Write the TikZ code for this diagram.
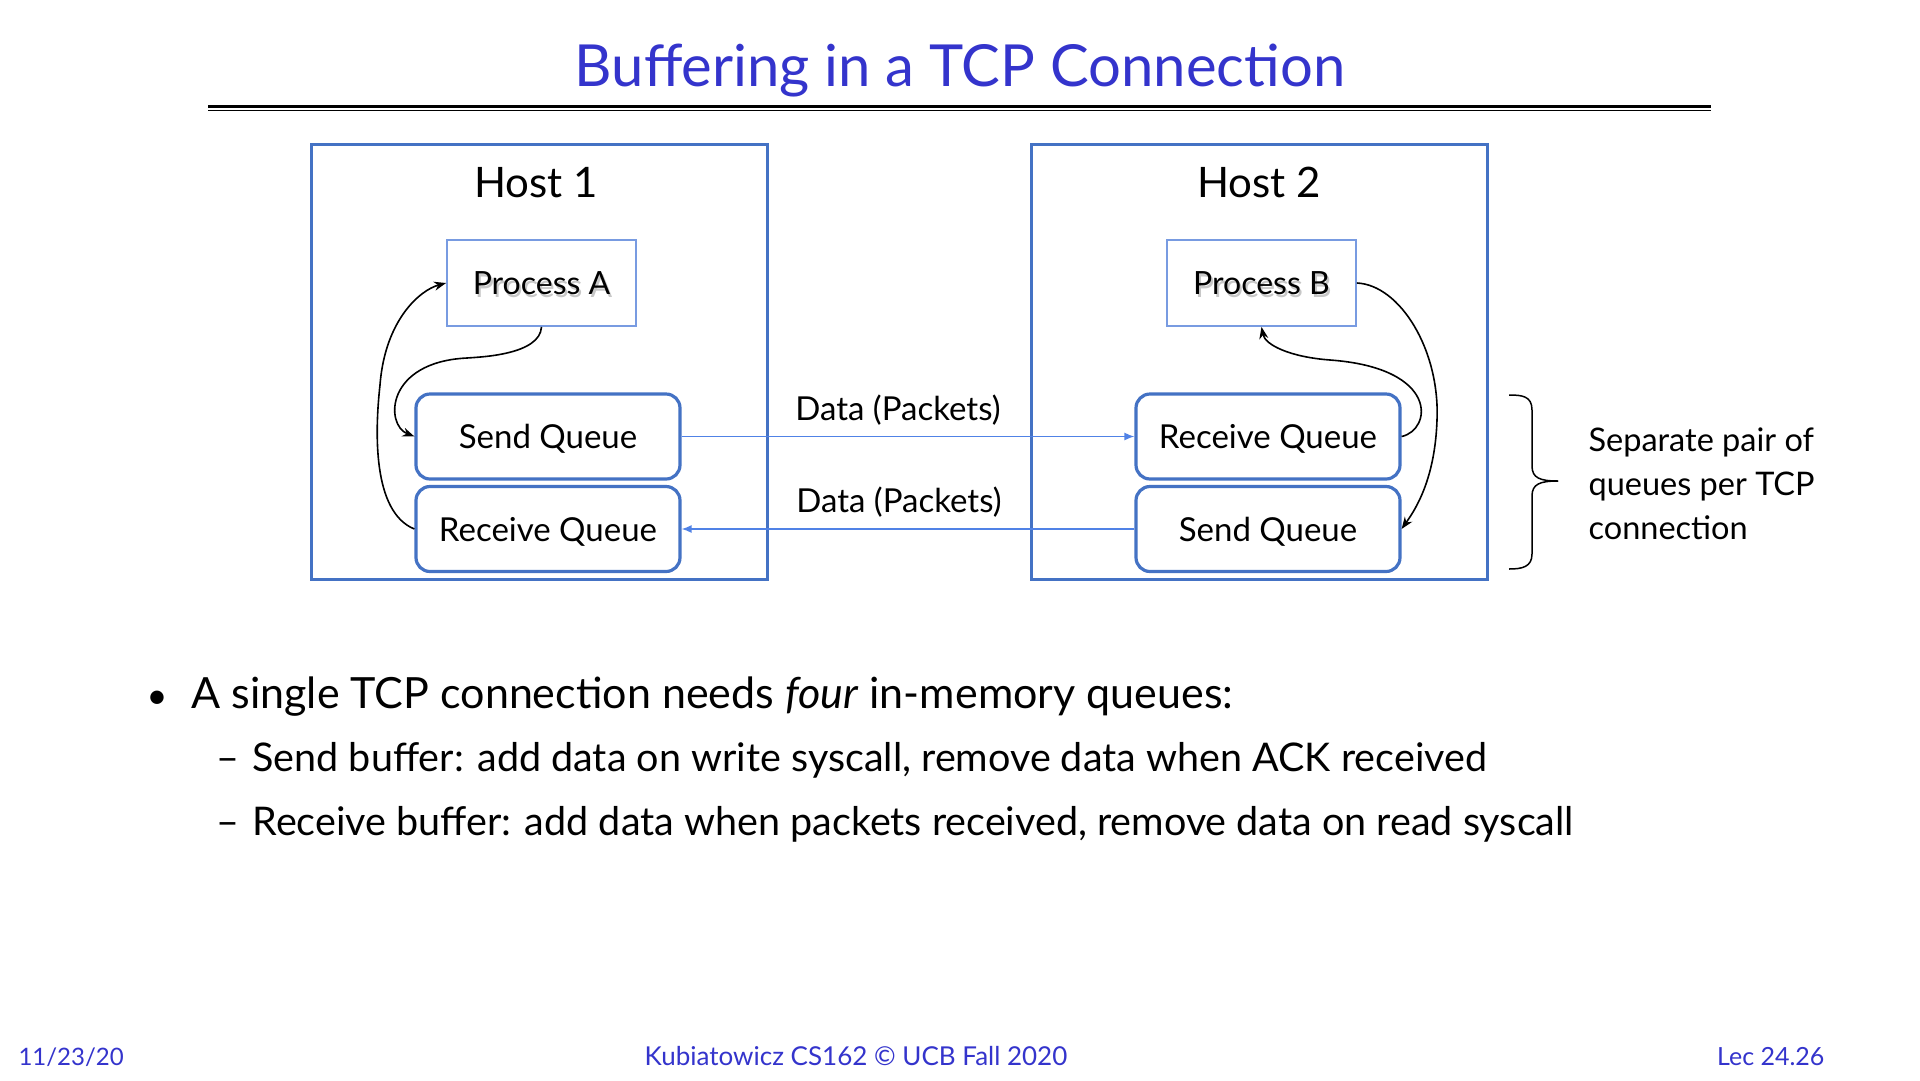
\documentclass[tikz,border=0pt]{standalone}
\usepackage{fontspec}
\setmainfont{Lato}
\usetikzlibrary{arrows.meta,calc}
\definecolor{slideblue}{RGB}{52,52,204}
\definecolor{hostblue}{RGB}{68,114,196}
\definecolor{procblue}{RGB}{120,155,225}
\definecolor{linkblue}{RGB}{80,130,230}
\newcommand{\fs}[1]{\fontsize{#1}{#1}\selectfont}
\begin{document}
\begin{tikzpicture}[x=1pt,y=-1pt,
  hostbox/.style={draw=hostblue,line width=3pt},
  procbox/.style={draw=procblue,line width=1.8pt,minimum width=189pt,minimum height=86pt,inner sep=0pt,font=\fs{32}},
  procshadow/.style={inner sep=0pt,font=\fs{32},text=black,text opacity=0.22},
  queuebox/.style={draw=hostblue,line width=3.2pt,rounded corners=14pt,minimum width=264pt,minimum height=85pt,inner sep=0pt,text height=28pt,text depth=4pt,font=\fs{33}},
  hostlabel/.style={anchor=base,font=\fs{42}},
  datalink/.style={linkblue,line width=1.4pt,-{Latex[length=10pt,width=8pt]}},
  datalabel/.style={anchor=base,font=\fs{33}},
  flow/.style={black,line width=1.6pt,-{Stealth[length=12pt,width=9pt]}},
  plain/.style={anchor=base west}
]
\useasboundingbox[fill=white] (0,0) rectangle (1920,1080);

% title and rule
\node[anchor=base,text=slideblue,font=\fs{58}] (title) at (960,86) {Buffering in a TCP Connection};
\draw[line width=2.6pt] (208,106.5) -- (1711,106.5);
\draw[line width=1.6pt] (208,110.5) -- (1711,110.5);

% hosts
\draw[hostbox] (311,144) rectangle (767,579);
\draw[hostbox] (1031,144) rectangle (1487,579);
\node[hostlabel] (h1) at (536,197) {Host 1};
\node[hostlabel] (h2) at (1259,197) {Host 2};

% processes, with a soft shadow under their names
\node[procshadow] (pas) at (543.5,286) {Process A};
\node[procshadow] (pbs) at (1263.5,286) {Process B};
\node[procbox] (pa) at (541.5,283) {Process A};
\node[procbox] (pb) at (1261.5,283) {Process B};

% queues
\node[queuebox] (sq1) at (548,436.5) {Send Queue};
\node[queuebox] (rq1) at (548,529) {Receive Queue};
\node[queuebox] (rq2) at (1268,436.5) {Receive Queue};
\node[queuebox] (sq2) at (1268,529) {Send Queue};

% network links
\draw[datalink] (sq1.east) -- (rq2.west);
\draw[datalink] (sq2.west) -- (rq1.east);
\node[datalabel] (d1) at (898,420) {Data (Packets)};
\node[datalabel] (d2) at (899,512) {Data (Packets)};

% flows inside host 1
\draw[flow] (pa.south) .. controls (540,355) and (480,357) .. (467,358)
  .. controls (385,362) and (385,425) .. (sq1.west);
\draw[flow] (rq1.west) .. controls (372,512) and (375,430) .. (380,385)
  .. controls (385,320) and (420,290) .. (pa.west);

% flows inside host 2
\draw[flow] (pb.east) .. controls (1400,285) and (1440,350) .. (1437,420)
  .. controls (1435,480) and (1415,510) .. (sq2.east);
\draw[flow] (rq2.east) .. controls (1432,430) and (1440,368) .. (1330,360)
  .. controls (1290,357) and (1265,345) .. (pb.south);

% brace and note
\draw[line width=1.5pt] (1509,395) .. controls (1522,395) and (1532,396) .. (1532,410)
  -- (1532,466) .. controls (1532,478) and (1540,481) .. (1558,481)
  coordinate (cusp);
\draw[line width=1.5pt] (1558,481) .. controls (1540,481) and (1532,484) .. (1532,496)
  -- (1532,554) .. controls (1532,567) and (1522,569) .. (1509,569);
\node[plain,font=\fs{32.5}] (n1) at (1585,451) {Separate pair of};
\node[plain,font=\fs{32.5}] (n2) at (1585,495) {queues per TCP};
\node[plain,font=\fs{32.5}] (n3) at (1585,539) {connection};

% bullets
\node[plain,font=\fs{36}] (b0) at (143,708) {•};
\node[plain,font=\fs{43}] (b1) at (188,708) {A single TCP connection needs \textit{four} in-memory queues:};
\node[plain,font=\fs{39.5}] (s1d) at (213,771) {–};
\node[plain,font=\fs{39.5}] (s1) at (249,771) {Send buffer: add data on write syscall, remove data when ACK received};
\node[plain,font=\fs{39.5}] (s2d) at (213,835) {–};
\node[plain,font=\fs{39.5}] (s2) at (249,835) {Receive buffer: add data when packets received, remove data on read syscall};

% footer
\node[plain,text=slideblue,font=\fs{24}] (f1) at (15,1065) {11/23/20};
\node[anchor=base,text=slideblue,font=\fs{26}] (f2) at (856,1065) {Kubiatowicz CS162 © UCB Fall 2020};
\node[anchor=base east,text=slideblue,font=\fs{25}] (f3) at (1828,1065) {Lec 24.26};
\end{tikzpicture}
\end{document}
